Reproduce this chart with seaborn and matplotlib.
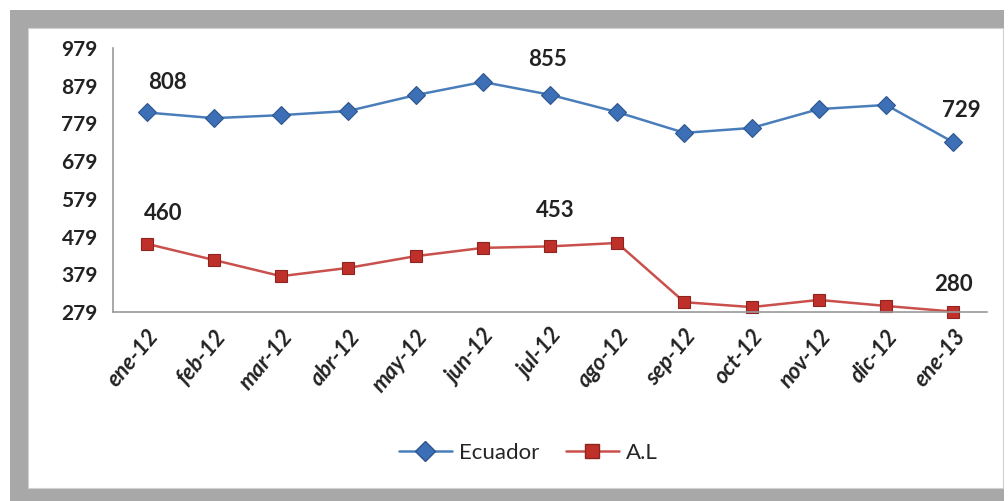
import seaborn as sns
import pandas as pd
import matplotlib.pyplot as plt
from matplotlib.patches import Rectangle
from matplotlib.lines import Line2D

# monthly values
meses = ['ene-12', 'feb-12', 'mar-12', 'abr-12', 'may-12', 'jun-12', 'jul-12',
         'ago-12', 'sep-12', 'oct-12', 'nov-12', 'dic-12', 'ene-13']
ecuador = [808, 793, 801, 812, 854, 889, 855, 809, 754, 767, 817, 828, 729]
al = [460, 417, 374, 396, 427, 449, 453, 462, 305, 292, 311, 295, 280]
yticks = [279, 379, 479, 579, 679, 779, 879, 979]

sns.set_style('white')
plt.rcParams['font.family'] = ['Lato', 'DejaVu Sans']

df = pd.DataFrame({'pos': list(range(len(meses))) * 2,
                   'valor': ecuador + al,
                   'serie': ['Ecuador'] * len(meses) + ['A.L'] * len(meses)})

fig = plt.figure(figsize=(10.08, 5.01), dpi=100)
fig.patch.set_facecolor('white')
# grey frame with white panel
fig.patches.append(Rectangle((10/1008, 0), 994/1008, 491/501, transform=fig.transFigure,
                             facecolor='#a8a8a8', edgecolor='none', zorder=-2))
fig.patches.append(Rectangle((28/1008, 13/501), 975/1008, 460/501, transform=fig.transFigure,
                             facecolor='white', edgecolor='#d0d0d0', lw=0.8, zorder=-1))

ax = fig.add_axes([113/1008, 1 - 312/501, 874/1008, 264/501])
ax.patch.set_alpha(0)

colores = {'Ecuador': '#4a7ebb', 'A.L': '#c9504c'}
sns.lineplot(data=df, x='pos', y='valor', hue='serie', style='serie',
             palette=colores, markers={'Ecuador': 'D', 'A.L': 's'}, dashes=False,
             markersize=9, linewidth=1.8, ax=ax, legend=False)
# marker faces
for line, fc, ec in zip(ax.lines, ['#3d6fb6', '#c0302a'], ['#2c558f', '#8e2420']):
    line.set_markerfacecolor(fc)
    line.set_markeredgecolor(ec)
    line.set_markeredgewidth(0.8)
    line.set_clip_on(False)

ax.set_xlim(-0.5, len(meses) - 0.5)
ax.set_ylim(279, 979)
ax.set_yticks(yticks)
ax.set_yticklabels([str(v) for v in yticks], fontsize=15, fontweight='bold', color='#222222')
ax.set_xticks(range(len(meses)))
ax.set_xticklabels(meses, rotation=50, ha='right', rotation_mode='anchor',
                   fontsize=16, fontweight='bold', fontstyle='italic', color='#222222')
ax.set_xticks([i - 0.5 for i in range(len(meses) + 1)], minor=True)
ax.tick_params(axis='x', which='major', length=0, pad=10)
ax.tick_params(axis='x', which='minor', length=6, color='#9a9a9a', width=1)
ax.tick_params(axis='y', length=8, color='#9a9a9a', width=1, pad=3)
ax.set_xlabel('')
ax.set_ylabel('')
for s in ['top', 'right']:
    ax.spines[s].set_visible(False)
for s in ['left', 'bottom']:
    ax.spines[s].set_color('#9a9a9a')
    ax.spines[s].set_linewidth(1.2)

# data labels
etiquetas = [(ecuador, 0, (1, 14)), (ecuador, 6, (-16, 18)), (ecuador, 12, (-8, 15)),
             (al, 0, (-2, 14)), (al, 6, (-10, 18)), (al, 12, (-14, 12))]
for serie, i, off in etiquetas:
    ax.annotate(str(serie[i]), (i, serie[i]), xytext=off, textcoords='offset points',
                fontsize=16, fontweight='bold', color='#222222', ha='left', va='bottom')

# legend
handles = [Line2D([], [], color='#4a7ebb', lw=1.8, marker='D', markersize=10,
                  markerfacecolor='#3d6fb6', markeredgecolor='#2c558f'),
           Line2D([], [], color='#c9504c', lw=1.8, marker='s', markersize=10,
                  markerfacecolor='#c0302a', markeredgecolor='#8e2420')]
fig.legend(handles, ['Ecuador', 'A.L'], loc='center', bbox_to_anchor=(528/1008, 1 - 453/501),
           ncol=2, frameon=False, fontsize=16, handlelength=2.4, columnspacing=1.2,
           handletextpad=0.3)

fig.savefig('out.png', dpi=100)
